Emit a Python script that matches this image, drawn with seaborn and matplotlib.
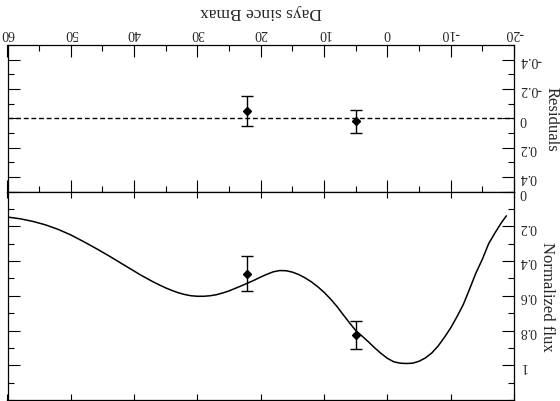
import matplotlib
matplotlib.use("Agg")
import matplotlib.pyplot as plt
from matplotlib.ticker import MultipleLocator, FixedLocator, FuncFormatter
import seaborn as sns
import pandas as pd

# Template light curve (days relative to B maximum, normalized flux)
model_days = [-18.8, -18, -17, -16, -15, -14, -13, -12, -11, -10, -9, -8, -7, -6,
              -5, -4, -3, -2, -1, 0, 1, 2, 3, 4, 5, 6, 7, 8, 9, 10, 11, 12, 13,
              14, 15, 16, 17, 18, 19, 20, 21, 22, 23, 24, 25, 26, 27, 28, 29, 30,
              31, 32, 33, 34, 35, 36, 37, 38, 39, 40, 42, 44, 46, 48, 50, 52, 54,
              56, 58, 60]
model_flux = [0.140, 0.180, 0.238, 0.300, 0.390, 0.468, 0.560, 0.650, 0.720, 0.785,
              0.840, 0.890, 0.930, 0.958, 0.977, 0.988, 0.990, 0.988, 0.980, 0.960,
              0.932, 0.900, 0.865, 0.832, 0.800, 0.755, 0.708, 0.660, 0.618, 0.580,
              0.548, 0.520, 0.497, 0.478, 0.464, 0.456, 0.455, 0.462, 0.476, 0.492,
              0.510, 0.526, 0.542, 0.557, 0.572, 0.584, 0.594, 0.600, 0.603, 0.603,
              0.600, 0.593, 0.583, 0.570, 0.555, 0.538, 0.520, 0.500, 0.480, 0.458,
              0.414, 0.370, 0.328, 0.288, 0.250, 0.218, 0.192, 0.172, 0.157, 0.147]

# Observed photometry
obs_days = [5.0, 22.1]
obs_flux = [0.827, 0.474]
obs_err = [0.08, 0.10]

# Residuals (data - model)
resid = [0.022, -0.05]
resid_err = [0.08, 0.10]

x_ticks = [-20, -10, 0, 10, 20, 30, 40, 50, 60]
resid_ticks = [-0.4, -0.2, 0, 0.2, 0.4]
flux_ticks = [0, 0.2, 0.4, 0.6, 0.8, 1.0]

sns.set_style("ticks")
plt.rcParams['font.family'] = ['Liberation Serif', 'DejaVu Serif']
plt.rcParams['axes.unicode_minus'] = False
plt.rcParams['axes.linewidth'] = 0.9
plt.rcParams['axes.edgecolor'] = 'black'

W, H = 560, 402
fig = plt.figure(figsize=(W / 100, H / 100), dpi=100)


def box(l, t, r, b):
    return [l / W, 1 - b / H, (r - l) / W, (b - t) / H]


ax_r = fig.add_axes(box(7.5, 46, 514, 192.5))
ax_f = fig.add_axes(box(7.5, 192.5, 514, 401))

fmt = FuncFormatter(lambda v, p: f"{(0 if abs(v) < 1e-9 else v):g}")

# ---- residual panel ----
ax_r.axhline(0, color='black', lw=1.0, ls=(0, (3.5, 2.0)))
ax_r.errorbar(obs_days, resid, yerr=resid_err, fmt='D', color='black',
              ms=4, capsize=4.5, elinewidth=1.0, capthick=1.0)
ax_r.set_xlim(60, -20)
ax_r.set_ylim(0.5, -0.5)
ax_r.xaxis.set_major_locator(FixedLocator(x_ticks))
ax_r.xaxis.set_minor_locator(MultipleLocator(5))
ax_r.yaxis.set_major_locator(FixedLocator(resid_ticks))
ax_r.yaxis.set_minor_locator(MultipleLocator(0.1))
ax_r.xaxis.set_major_formatter(fmt)
ax_r.yaxis.set_major_formatter(fmt)
ax_r.tick_params(which='both', direction='in', top=True, bottom=True, left=True, right=True,
                 labeltop=True, labelbottom=False, labelright=True, labelleft=False,
                 labelrotation=180, labelsize=10, width=0.8, color='black')
ax_r.tick_params(which='major', length=8.6, pad=4)
ax_r.tick_params(which='minor', length=4.3)
ax_r.set_xlabel("Days since Bmax", fontsize=12.5, rotation=180, labelpad=5)
ax_r.xaxis.set_label_position('top')
ax_r.xaxis.label.set_va('bottom')
ax_r.set_ylabel("Residuals", fontsize=12, labelpad=1.5)
ax_r.yaxis.set_label_position('right')
ax_r.yaxis.label.set_rotation(270)
ax_r.yaxis.label.set_va('bottom')

# ---- flux panel ----
df = pd.DataFrame({"day": model_days, "flux": model_flux})
sns.lineplot(data=df, x="day", y="flux", color='black', lw=1.1, ax=ax_f)
ax_f.errorbar(obs_days, obs_flux, yerr=obs_err, fmt='D', color='black',
              ms=4, capsize=4.5, elinewidth=1.0, capthick=1.0)
ax_f.set_xlim(60, -20)
ax_f.set_ylim(1.2, 0)
ax_f.xaxis.set_major_locator(FixedLocator(x_ticks))
ax_f.yaxis.set_major_locator(FixedLocator(flux_ticks))
ax_f.yaxis.set_minor_locator(MultipleLocator(0.1))
ax_f.yaxis.set_major_formatter(fmt)
ax_f.tick_params(which='both', direction='in', top=True, bottom=True, left=True, right=True,
                 labeltop=False, labelbottom=False, labelright=True, labelleft=False,
                 labelrotation=180, labelsize=10, width=0.8, color='black')
ax_f.tick_params(axis='y', which='major', length=8.6, pad=4)
ax_f.tick_params(axis='y', which='minor', length=4.3)
ax_f.tick_params(axis='x', which='major', length=4.3)
ax_f.set_xlabel("")
ax_f.set_ylabel("Normalized flux", fontsize=12, labelpad=1.5)
ax_f.yaxis.set_label_position('right')
ax_f.yaxis.label.set_rotation(270)
ax_f.yaxis.label.set_va('bottom')

for ax in (ax_r, ax_f):
    for t in ax.yaxis.get_major_ticks():
        t.label2.set_va('center')

fig.savefig("out.png", dpi=100)
